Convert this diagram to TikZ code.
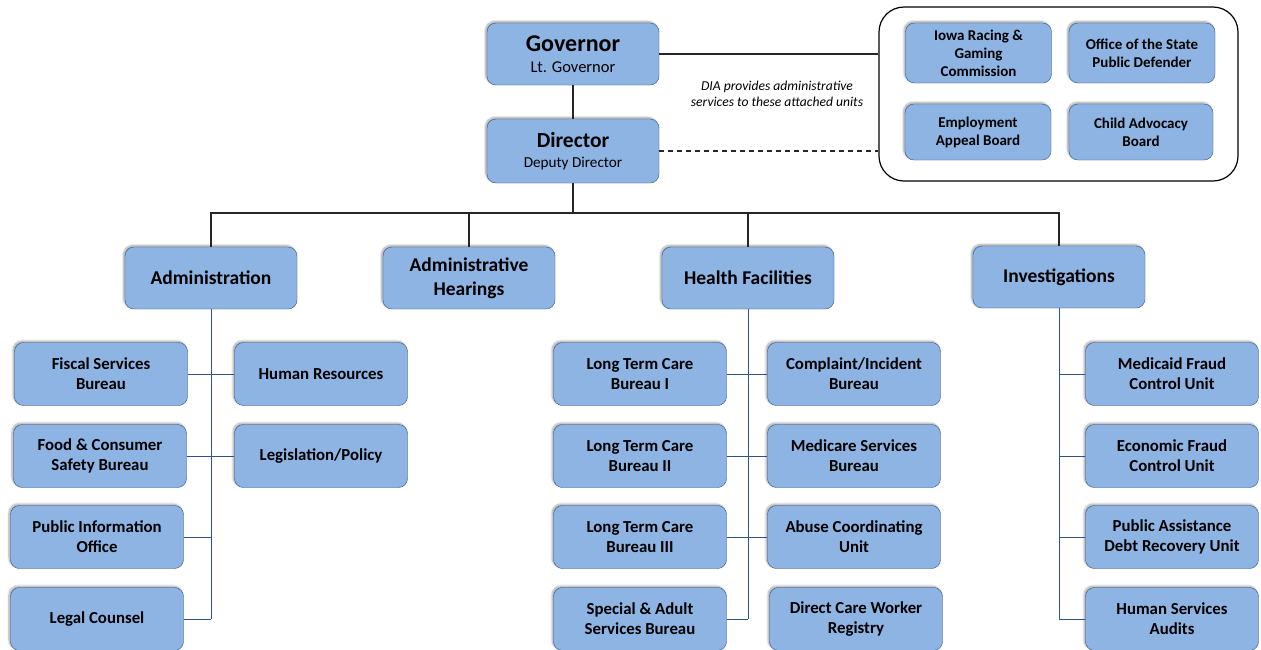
\documentclass[tikz,border=0pt]{standalone}
\usepackage{fontspec}
\setmainfont{Carlito}
\usetikzlibrary{positioning}
\usetikzlibrary{shadows.blur}
\definecolor{boxfill}{RGB}{142,180,227}
\definecolor{boxline}{RGB}{47,82,143}
\tikzset{
  unit/.style={rectangle,rounded corners=9pt,draw=boxline,fill=boxfill,
    align=center,font=\bfseries\fontsize{16.8}{20}\selectfont,
    minimum width=173pt,minimum height=63pt,inner sep=2pt,
    blur shadow={shadow xshift=-1.5pt,shadow yshift=1.5pt,shadow blur steps=6,shadow opacity=35}},
  division/.style={unit,minimum width=172pt,minimum height=62pt,font=\bfseries\fontsize{19.5}{24}\selectfont},
  attached/.style={unit,minimum width=146pt,minimum height=58pt,font=\bfseries\fontsize{15}{18}\selectfont},
  subline/.style={draw=boxline,line width=0.9pt},
  topline/.style={draw=black!85,line width=1.4pt}
}
\begin{document}
\begin{tikzpicture}[x=1pt,y=-1pt]
    \useasboundingbox (0,0) rectangle (1261,649);
    % leadership
    \node at (573, 54) [division,font=\fontsize{16.5}{24}\selectfont] (gov)
      {{\bfseries\fontsize{24}{24}\selectfont Governor}\\[-3pt]Lt. Governor};
    \node at (573, 151) [division,minimum height=64pt,font=\fontsize{15.2}{22}\selectfont] (dir)
      {{\bfseries\fontsize{21.5}{22}\selectfont Director}\\[-2pt]Deputy Director};
    % attached units
    \node at (1058.5, 94) [rectangle,draw=black,line width=1.2pt,rounded corners=25pt,
      minimum width=359pt,minimum height=174pt] (att) {};
    \node at (978.5, 53) [attached,minimum height=60pt] (racing) {Iowa Racing \&\\Gaming\\Commission};
    \node at (1142, 53) [attached,minimum height=60pt] (spd) {Office of the State\\Public Defender};
    \node at (978, 132) [attached,minimum height=56pt] (eab) {Employment\\Appeal Board};
    \node at (1141, 132) [attached,minimum width=144pt,minimum height=56pt] (cab) {Child Advocacy\\Board};
    \node at (777, 94) [align=center,font=\itshape\fontsize{13.6}{15.5}\selectfont] (note)
      {DIA provides administrative\\services to these attached units};
    \draw [topline] (gov.south) to (dir.north);
    \draw [topline] (gov.east) to (gov.east -| att.west);
    \draw [topline,line width=1.1pt,dash pattern=on 5pt off 4pt] (dir.east) to (dir.east -| att.west);
    % divisions
    \node at (211, 278) [division] (admin) {Administration};
    \node at (469, 278) [division] (hear) {Administrative\\Hearings};
    \node at (748, 278) [division] (health) {Health Facilities};
    \node at (1059, 277) [division] (inv) {Investigations};
    \coordinate (bus) at (573, 213);
    \draw [topline] (dir.south) to (bus);
    \draw [topline] (admin.north) |- (bus) -| (inv.north);
    \draw [topline] (hear.north) to (hear.north |- bus);
    \draw [topline] (health.north) to (health.north |- bus);
    % administration
    \node at (101, 374) [unit] (fiscal) {Fiscal Services\\Bureau};
    \node at (100, 456) [unit] (food) {Food \& Consumer\\Safety Bureau};
    \node at (97, 537) [unit] (pio) {Public Information\\Office};
    \node at (97, 619) [unit] (legal) {Legal Counsel};
    \node at (321, 374) [unit] (hr) {Human Resources};
    \node at (321, 456) [unit] (legis) {Legislation/Policy};
    \draw [subline] (admin.south) to (admin.south |- legal.east);
    \draw [subline] (fiscal.east) to (hr.west);
    \draw [subline] (food.east) to (legis.west);
    \draw [subline] (pio.east) to (pio.east -| admin.south);
    \draw [subline] (legal.east) to (legal.east -| admin.south);
    % health facilities
    \node at (640, 374) [unit] (ltc1) {Long Term Care\\Bureau I};
    \node at (640, 456) [unit] (ltc2) {Long Term Care\\Bureau II};
    \node at (640, 537) [unit] (ltc3) {Long Term Care\\Bureau III};
    \node at (640, 619) [unit] (sas) {Special \& Adult\\Services Bureau};
    \node at (854, 374) [unit] (cib) {Complaint/Incident\\Bureau};
    \node at (854, 456) [unit] (msb) {Medicare Services\\Bureau};
    \node at (854, 537) [unit] (acu) {Abuse Coordinating\\Unit};
    \node at (856, 619) [unit] (dcw) {Direct Care Worker\\Registry};
    \draw [subline] (health.south) to (health.south |- sas.east);
    \draw [subline] (ltc1.east) to (cib.west);
    \draw [subline] (ltc2.east) to (msb.west);
    \draw [subline] (ltc3.east) to (acu.west);
    \draw [subline] (sas.east) to (sas.east -| health.south);
    % investigations
    \node at (1172, 374) [unit] (mfcu) {Medicaid Fraud\\Control Unit};
    \node at (1172, 456) [unit] (efcu) {Economic Fraud\\Control Unit};
    \node at (1172, 537) [unit] (padr) {Public Assistance\\Debt Recovery Unit};
    \node at (1172, 619) [unit] (hsa) {Human Services\\Audits};
    \draw [subline] (inv.south) to (inv.south |- hsa.west);
    \foreach \u in {mfcu,efcu,padr,hsa}
      \draw [subline] (\u.west) to (\u.west -| inv.south);
\end{tikzpicture}
\end{document}
